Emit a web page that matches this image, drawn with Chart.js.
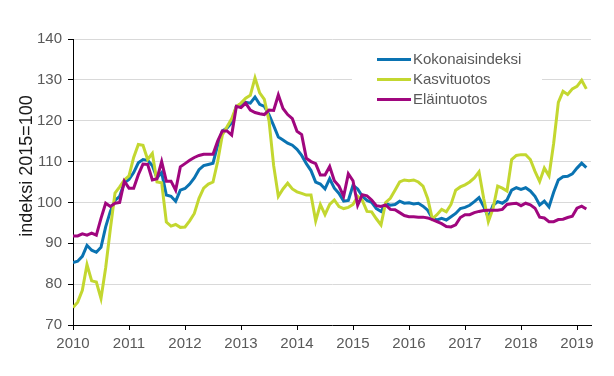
<!DOCTYPE html>
<html>
<head>
<meta charset="utf-8">
<script src="https://cdn.jsdelivr.net/npm/chart.js@4.4.1/dist/chart.umd.min.js"></script>
<style>
  html, body { margin: 0; padding: 0; background: #fff; }
  #wrap { width: 614px; height: 376px; }
</style>
</head>
<body>
<div id="wrap"><canvas id="myChart" width="614" height="376"></canvas></div>
<script>
// monthly values, 2010-01 .. 2019-03
const years = ['2010', '2011', '2012', '2013', '2014', '2015', '2016', '2017', '2018', '2019'];
const seriesNames = ['Kokonaisindeksi', 'Kasvituotos', 'Eläintuotos'];

const kokonaisindeksi = [
    85.3, 85.6, 86.8, 89.5, 88.3, 87.8, 89.0, 94.0, 97.8, 100.5, 101.5, 104.8,
    105.6, 107.3, 109.7, 110.5, 110.3, 109.0, 106.0, 107.3, 101.8, 101.5, 100.3, 103.0,
    103.4, 104.5, 106.0, 108.0, 109.0, 109.3, 109.6, 114.0, 117.5, 118.2, 119.5, 123.5,
    124.0, 124.5, 124.3, 125.8, 124.0, 123.5, 121.5, 118.8, 116.0, 115.3, 114.5, 114.0,
    113.0, 111.5, 109.5, 107.8, 105.0, 104.5, 103.3, 105.8, 103.5, 102.2, 100.3, 100.5,
    104.2, 103.3, 101.5, 100.5, 100.0, 98.5, 97.8, 99.7, 99.3, 99.5, 100.3, 99.8,
    99.9, 99.6, 99.8, 99.1, 98.1, 96.1, 95.7, 96.1, 95.7, 96.5, 97.3, 98.5,
    98.8, 99.3, 100.2, 101.2, 99.0, 96.3, 99.3, 100.2, 99.8, 100.6, 103.0, 103.6,
    103.2, 103.6, 102.8, 101.5, 99.4, 100.3, 98.9, 102.5, 105.5, 106.3, 106.4, 107.0,
    108.4, 109.6, 108.5
];

const kasvituotos = [
    74.3, 75.6, 78.5, 84.8, 80.8, 80.5, 76.5, 84.0, 93.5, 102.3, 103.8, 105.5,
    106.5, 111.0, 114.2, 114.0, 110.5, 112.0, 105.0, 104.8, 95.2, 94.2, 94.6, 93.9,
    94.0, 95.5, 97.3, 101.0, 103.5, 104.5, 105.0, 110.0, 116.5, 118.5, 120.5, 123.5,
    124.3, 125.5, 126.2, 130.5, 126.8, 125.2, 120.0, 109.0, 101.5, 103.3, 104.7, 103.3,
    102.6, 102.2, 101.8, 101.8, 95.5, 99.5, 97.0, 99.5, 100.6, 99.0, 98.5, 98.8,
    99.5, 101.5, 100.5, 97.8, 97.7, 96.0, 94.5, 100.0, 101.0, 103.0, 105.0, 105.5,
    105.3, 105.5, 105.0, 104.0, 101.0, 96.0, 97.0, 98.3, 97.7, 99.5, 103.0, 103.8,
    104.3, 105.0, 106.0, 107.5, 101.0, 95.3, 98.5, 104.0, 103.5, 102.8, 110.5, 111.5,
    111.7, 111.7, 110.5, 107.6, 105.1, 108.4, 106.5, 114.5, 124.5, 127.2, 126.4, 127.8,
    128.4, 129.9, 127.8
];

const elaintuotos = [
    91.8, 91.8, 92.3, 92.0, 92.5, 92.0, 96.1, 99.8, 99.0, 99.8, 100.0, 105.2,
    103.5, 103.5, 106.8, 109.4, 109.3, 105.5, 105.8, 110.0, 105.2, 105.2, 103.0, 108.7,
    109.5, 110.3, 111.0, 111.5, 111.8, 111.8, 111.8, 115.0, 117.5, 117.5, 116.5, 123.5,
    123.2, 124.3, 122.6, 122.0, 121.7, 121.5, 122.6, 122.5, 126.3, 123.0, 121.5, 120.5,
    117.4, 116.6, 110.8, 110.0, 109.5, 106.7, 106.7, 108.8, 105.3, 104.0, 101.5, 107.0,
    105.3, 99.3, 101.9, 101.6, 100.6, 99.2, 99.0, 99.4, 98.3, 98.2, 97.5, 96.8,
    96.5, 96.5, 96.4, 96.4, 96.2, 95.8, 95.3, 94.8, 94.1, 94.0, 94.5, 96.3,
    97.0, 97.0, 97.5, 97.8, 98.0, 98.1, 98.1, 98.1, 98.3, 99.5, 99.7, 99.8,
    99.2, 99.8, 99.4, 98.6, 96.4, 96.2, 95.3, 95.3, 95.8, 95.9, 96.3, 96.6,
    98.6, 99.1, 98.4
];

const colors = ['#0a73b2', '#c3d730', '#a0067e'];
const allSeries = [kokonaisindeksi, kasvituotos, elaintuotos];

function toPoints(arr) {
    return arr.map((v, i) => ({ x: i, y: v }));
}

// legend drawn inside the plot, on a white box
const insideLegend = {
    id: 'insideLegend',
    afterDatasetsDraw(chart) {
        const ctx = chart.ctx;
        ctx.save();
        ctx.fillStyle = '#fff';
        ctx.fillRect(352, 46, 190, 68);
        ctx.font = '15px "Liberation Sans", Arial, sans-serif';
        ctx.textBaseline = 'middle';
        ctx.textAlign = 'left';
        seriesNames.forEach((name, i) => {
            const y = 59.5 + i * 20;
            ctx.strokeStyle = colors[i];
            ctx.lineWidth = 3;
            ctx.beginPath();
            ctx.moveTo(377, y);
            ctx.lineTo(411, y);
            ctx.stroke();
            ctx.fillStyle = '#595959';
            ctx.fillText(name, 413, y + 0.5);
        });
        ctx.restore();
    }
};

const yTitle = {
    id: 'yTitle',
    afterDraw(chart) {
        const ctx = chart.ctx;
        ctx.save();
        ctx.translate(27, 166);
        ctx.rotate(-Math.PI / 2);
        ctx.font = '18px "Liberation Sans", Arial, sans-serif';
        ctx.fillStyle = '#1a1a1a';
        ctx.textAlign = 'center';
        ctx.textBaseline = 'middle';
        ctx.fillText('indeksi 2015=100', 0, 0);
        ctx.restore();
    }
};

const ctx = document.getElementById('myChart').getContext('2d');
const myChart = new Chart(ctx, {
    type: 'line',
    data: {
        datasets: allSeries.map((arr, i) => ({
            label: seriesNames[i],
            data: toPoints(arr),
            borderColor: colors[i],
            backgroundColor: colors[i],
            borderWidth: 3,
            pointRadius: 0,
            tension: 0,
            fill: false,
            order: 3 - i
        }))
    },
    options: {
        responsive: false,
        animation: false,
        layout: {
            padding: { left: 0, right: 23, top: 39, bottom: 0 }
        },
        plugins: {
            legend: { display: false },
            tooltip: { enabled: false }
        },
        scales: {
            x: {
                type: 'linear',
                min: 0,
                max: 111,
                afterBuildTicks: (scale) => {
                    scale.ticks = years.map((y, i) => ({ value: i * 12 }));
                },
                afterFit: (scale) => { scale.height = 51; },
                grid: {
                    drawOnChartArea: false,
                    drawTicks: true,
                    tickLength: 5,
                    tickColor: '#000'
                },
                border: { color: '#000', width: 1 },
                ticks: {
                    autoSkip: false,
                    maxRotation: 0,
                    padding: 5,
                    color: '#595959',
                    font: { family: '"Liberation Sans", Arial, sans-serif', size: 15 },
                    callback: (value) => years[Math.round(value / 12)]
                }
            },
            y: {
                min: 70,
                max: 140,
                afterFit: (scale) => { scale.width = 73; },
                grid: {
                    color: '#d9d9d9',
                    tickColor: '#000',
                    tickLength: 5
                },
                border: { color: '#000', width: 1 },
                ticks: {
                    stepSize: 10,
                    padding: 6,
                    color: '#595959',
                    font: { family: '"Liberation Sans", Arial, sans-serif', size: 15 }
                }
            }
        }
    },
    plugins: [insideLegend, yTitle]
});
</script>
</body>
</html>
